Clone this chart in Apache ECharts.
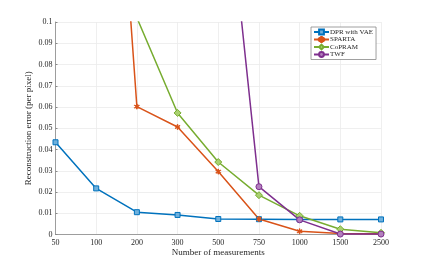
<!DOCTYPE html>
<html><head><meta charset="utf-8">
<script src="https://cdn.jsdelivr.net/npm/echarts@6/dist/echarts.min.js"></script>
<style>html,body{margin:0;padding:0;background:#fff}#c{width:423px;height:270px}</style>
</head><body><div id="c"></div>
<script>
const categories = ['50','100','200','300','500','750','1000','1500','2500'];
const dprVae = [0.0434, 0.0217, 0.0105, 0.0092, 0.0073, 0.0072, 0.0071, 0.0071, 0.0071];
const sparta = [null, 0.33, 0.0602, 0.0506, 0.0296, 0.0073, 0.0015, 0.0005, 0.0003];
const copram = [null, null, 0.102, 0.0572, 0.0341, 0.0185, 0.0088, 0.0025, 0.0008];
const twf = [null, null, null, null, 0.205, 0.0225, 0.0069, 0.0002, 0.0002];
const yTicks = [0, 0.01, 0.02, 0.03, 0.04, 0.05, 0.06, 0.07, 0.08, 0.09, 0.1];

const font = 'Liberation Serif';
const asterisk = 'path://M4.5,0h1v3.8l2.8-2.2l0.6,0.8l-2.9,2.1l2.9,2.1l-0.6,0.8l-2.8-2.2v3.8h-1v-3.8l-2.8,2.2l-0.6-0.8l2.9-2.1l-2.9-2.1l0.6-0.8l2.8,2.2z';
function mk(name, data, color, fill, symbol, size) {
  return {
    name, type: 'line', data, connectNulls: false, clip: true,
    symbol, symbolSize: size, showSymbol: true,
    lineStyle: { color, width: 1.5 },
    itemStyle: { color: fill, borderColor: color, borderWidth: 1 },
    emphasis: { disabled: true }
  };
}
const chart = echarts.init(document.getElementById('c'), null, { renderer: 'canvas' });
chart.setOption({
  animation: false,
  backgroundColor: '#fff',
  grid: { left: 55.5, right: 42, top: 22, bottom: 35.5, containLabel: false },
  legend: {
    left: 311, top: 27, orient: 'vertical',
    itemWidth: 15, itemHeight: 6, itemGap: 0.5,
    padding: [1.5, 3, 1.5, 2],
    borderColor: '#888', borderWidth: 0.8, backgroundColor: '#fff',
    textStyle: { fontFamily: font, fontSize: 7, lineHeight: 7, color: '#262626', padding: [0,0,0,-4] },
    data: ['DPR with VAE', 'SPARTA', 'CoPRAM', 'TWF']
  },
  xAxis: {
    type: 'category', data: categories, boundaryGap: false,
    name: 'Number of measurements', nameLocation: 'middle', nameGap: 14, nameMoveOverlap: false,
    nameTextStyle: { fontFamily: font, fontSize: 9, color: '#262626', verticalAlign: 'top' },
    axisLine: { lineStyle: { color: '#888', width: 0.8 } },
    axisTick: { show: false },
    axisLabel: { fontFamily: font, fontSize: 8, color: '#262626', margin: 4 },
    splitLine: { show: true, lineStyle: { color: '#ebebeb', width: 0.8 } }
  },
  yAxis: {
    type: 'value', min: 0, max: 0.1, interval: 0.01,
    name: 'Reconstruction error (per pixel)', nameLocation: 'middle', nameGap: 22, nameMoveOverlap: false,
    nameTextStyle: { fontFamily: font, fontSize: 9, color: '#262626' },
    axisLine: { show: true, lineStyle: { color: '#888', width: 0.8 } },
    axisTick: { show: true, inside: true, length: 2, lineStyle: { color: '#888' } },
    axisLabel: { fontFamily: font, fontSize: 8, color: '#262626', margin: 3,
      customValues: yTicks, formatter: v => String(+v.toFixed(2)) },
    splitLine: { show: true, lineStyle: { color: '#ebebeb', width: 0.8 } }
  },
  series: [
    mk('DPR with VAE', dprVae, '#0072BD', '#6fb0dc', 'rect', 5),
    mk('SPARTA', sparta, '#D95319', '#D95319', asterisk, 5),
    mk('CoPRAM', copram, '#77AC30', '#a9d070', 'diamond', 7),
    mk('TWF', twf, '#7E2F8E', '#b27fbd', 'circle', 6)
  ]
});
</script></body></html>
